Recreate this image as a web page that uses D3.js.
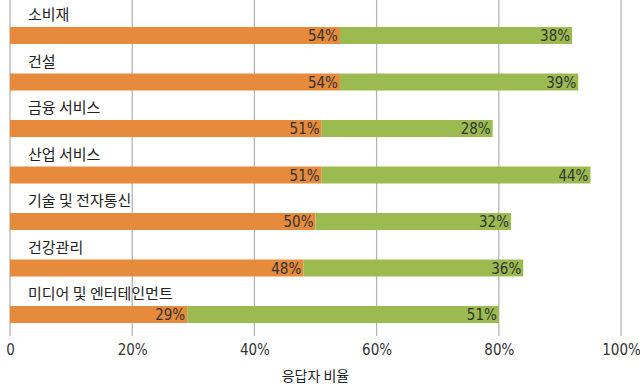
<!DOCTYPE html>
<html>
<head>
<meta charset="utf-8">
<script src="https://cdn.jsdelivr.net/npm/d3@7"></script>
<style>
  body { margin: 0; background: #fff; }
  .cat { font-family: "Noto Sans CJK KR", sans-serif; font-size: 15px; fill: #222; }
  .val { font-family: "Liberation Sans Narrow", "DejaVu Sans Condensed", sans-serif; font-stretch: condensed; font-size: 15px; fill: #333; }
  .tick text { font-family: "Liberation Sans Narrow", "DejaVu Sans Condensed", sans-serif; font-stretch: condensed; font-size: 15px; fill: #333; }
</style>
</head>
<body>
<script>
const categories = ['소비재', '건설', '금융 서비스', '산업 서비스', '기술 및 전자통신', '건강관리', '미디어 및 엔터테인먼트'];
const orangeValues = [54, 54, 51, 51, 50, 48, 29];
const greenValues = [38, 39, 28, 44, 32, 36, 51];
const tickValues = [0, 20, 40, 60, 80, 100];
const axisTitle = '응답자 비율';

const width = 640;
const height = 386;

const svg = d3.select('body')
  .append('svg')
  .attr('width', width)
  .attr('height', height);

const x = d3.scaleLinear().domain([0, 100]).range([10, 621]);
const y = d3.scaleBand().domain(categories).range([4, 329.5]).padding(0);

// gridlines
svg.append('g')
  .selectAll('line')
  .data(tickValues)
  .join('line')
  .attr('x1', d => x(d))
  .attr('x2', d => x(d))
  .attr('y1', 0)
  .attr('y2', 336)
  .attr('stroke', '#b5b5b5')
  .attr('stroke-width', 1.3);

const rows = categories.map((c, i) => ({ cat: c, a: orangeValues[i], b: greenValues[i] }));

const row = svg.append('g')
  .selectAll('g')
  .data(rows)
  .join('g')
  .attr('transform', d => `translate(0,${y(d.cat)})`);

row.append('text')
  .attr('class', 'cat')
  .attr('x', 28)
  .attr('y', 16)
  .text(d => d.cat);

row.append('rect')
  .attr('x', x(0))
  .attr('y', 23)
  .attr('width', d => x(d.a) - x(0))
  .attr('height', 17)
  .attr('fill', '#e68a3c');

row.append('rect')
  .attr('x', d => x(d.a))
  .attr('y', 23)
  .attr('width', d => x(d.a + d.b) - x(d.a))
  .attr('height', 17)
  .attr('fill', '#9bbb50');

row.append('text')
  .attr('class', 'val')
  .attr('x', d => x(d.a) - 2)
  .attr('y', 37)
  .attr('text-anchor', 'end')
  .text(d => d.a + '%');

row.append('text')
  .attr('class', 'val')
  .attr('x', d => x(d.a + d.b) - 2)
  .attr('y', 37)
  .attr('text-anchor', 'end')
  .text(d => d.b + '%');

// axis
const axis = svg.append('g')
  .attr('transform', 'translate(0,336)')
  .call(d3.axisBottom(x).tickValues(tickValues).tickSize(0).tickPadding(8)
    .tickFormat(d => d === 0 ? '0' : d + '%'));
axis.select('.domain').remove();

svg.append('text')
  .attr('class', 'cat')
  .attr('x', x(50))
  .attr('y', 381)
  .attr('text-anchor', 'middle')
  .style('font-size', '14px')
  .text(axisTitle);
</script>
</body>
</html>
